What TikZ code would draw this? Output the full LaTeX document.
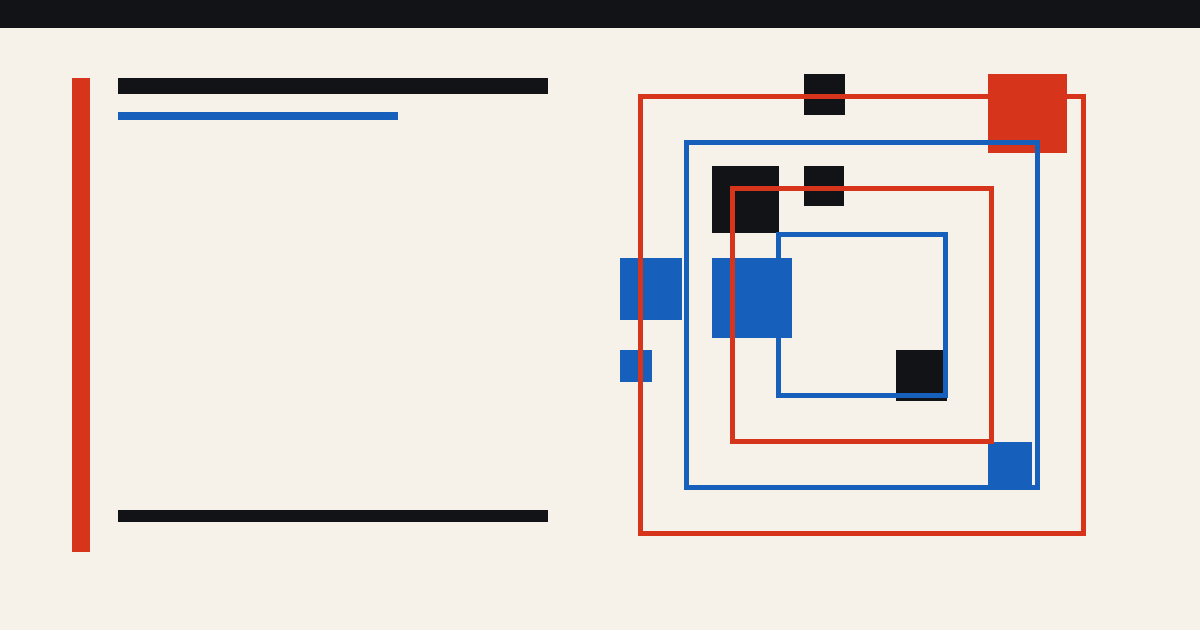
\documentclass[tikz,border=0pt]{standalone}
\definecolor{bg}{HTML}{F6F2EA}
\definecolor{ink}{HTML}{121316}
\definecolor{vred}{HTML}{D6351B}
\definecolor{vblue}{HTML}{1660BC}
\tikzset{
  redfill/.style={fill=vred, draw=none},
  bluefill/.style={fill=vblue, draw=none},
  inkfill/.style={fill=ink, draw=none},
  redframe/.style={draw=vred, line width=5pt, fill=none},
  blueframe/.style={draw=vblue, line width=5pt, fill=none}
}
\begin{document}
\begin{tikzpicture}[x=1pt,y=-1pt]
\useasboundingbox (0,0) rectangle (1200,630);
\fill[bg] (0,0) rectangle (1200,630);
% header band
\fill[ink] (0,0) rectangle (1200,28);
% left column
\fill[vred] (72,78) rectangle (90,552);
\fill[ink] (118,78) rectangle (548,94);
\fill[vblue] (118,112) rectangle (398,120);
\fill[ink] (118,510) rectangle (548,522);
% filled squares
\path[inkfill] (804,74) rectangle (845,115);
\path[redfill] (988,74) rectangle (1067,153);
\path[inkfill] (712,166) rectangle (779,233);
\path[inkfill] (804,166) rectangle (844,206);
\path[bluefill] (620,258) rectangle (682,320);
\path[bluefill] (712,258) rectangle (792,338);
\path[bluefill] (620,350) rectangle (652,382);
\path[inkfill] (896,350) rectangle (947,401);
\path[bluefill] (988,442) rectangle (1032,487);
% nested frames
\draw[redframe] (640.5,96.5) rectangle (1083.5,533.5);
\draw[blueframe] (686.5,142.5) rectangle (1037.5,487.5);
\draw[redframe] (732.5,188.5) rectangle (991.5,441.5);
\draw[blueframe] (778.5,234.5) rectangle (945.5,395.5);
\end{tikzpicture}
\end{document}
